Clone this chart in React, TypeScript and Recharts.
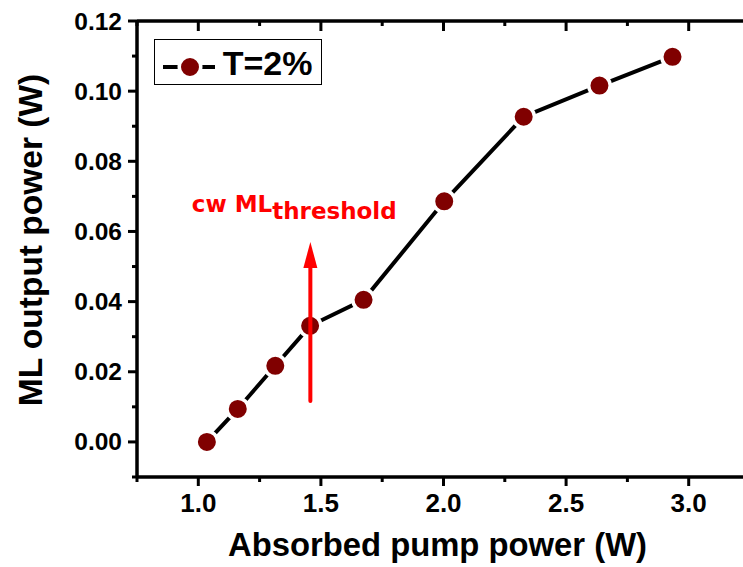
import { Legend, Line, LineChart, ReferenceLine, XAxis, YAxis } from 'recharts'

const pumpPower = [1.035, 1.161, 1.314, 1.456, 1.674, 2.003, 2.327, 2.636, 2.934]
const mlPower = [0.0, 0.0094, 0.0217, 0.0331, 0.0405, 0.0686, 0.0927, 0.1016, 0.1098]

const xTicks = [0.75, 1, 1.25, 1.5, 1.75, 2, 2.25, 2.5, 2.75, 3, 3.25]
const yTicks = [-0.01, 0, 0.01, 0.02, 0.03, 0.04, 0.05, 0.06, 0.07, 0.08, 0.09, 0.1, 0.11, 0.12]

const seriesName = 'T=2%'
const arrowX = 1.457
const arrowFrom = 0.0117
const arrowTo = 0.057

const data = pumpPower.map((x, i) => ({ x, y: mlPower[i] }))

const FONT = '"Liberation Sans", Arial, sans-serif'
const NOTE_FONT = '"DejaVu Sans", sans-serif'
const MARKER = '#800000'

const isMajorX = (v: number) => Math.abs(v * 2 - Math.round(v * 2)) < 1e-6
const isMajorY = (v: number) => Math.round(v * 100) % 2 === 0

function BottomTick({ x, y, payload }: any) {
  const major = isMajorX(payload.value)
  return (
    <g>
      <line x1={x} x2={x} y1={y} y2={y + (major ? 9 : 5)} stroke="#000" strokeWidth={3} />
      {major && (
        <text x={x} y={y + 34.5} textAnchor="middle" fontFamily={FONT} fontWeight="bold" fontSize={26} fill="#000">
          {payload.value.toFixed(1)}
        </text>
      )}
    </g>
  )
}

function TopTick({ x, y, payload }: any) {
  const major = isMajorX(payload.value)
  return <line x1={x} x2={x} y1={y} y2={y + (major ? 10 : 5)} stroke="#000" strokeWidth={3} />
}

function LeftTick({ x, y, payload }: any) {
  const major = isMajorY(payload.value)
  return (
    <g>
      <line x1={x} x2={x - (major ? 9 : 5)} y1={y} y2={y} stroke="#000" strokeWidth={3} />
      {major && payload.value >= 0 && (
        <text x={x - 15} y={y + 8.5} textAnchor="end" fontFamily={FONT} fontWeight="bold" fontSize={24.5} fill="#000">
          {payload.value.toFixed(2)}
        </text>
      )}
    </g>
  )
}

function RightTick({ x, y, payload }: any) {
  const major = isMajorY(payload.value)
  return <line x1={x} x2={x - (major ? 9 : 5)} y1={y} y2={y} stroke="#000" strokeWidth={3} />
}

function Dot({ cx, cy }: any) {
  return <circle cx={cx} cy={cy} r={10.75} fill={MARKER} stroke="#fff" strokeWidth={3.5} />
}

function Arrow({ x1, y1, y2 }: any) {
  // lower end to tip, label sits above and to the left of the tip
  const top = Math.min(y1, y2)
  const bottom = Math.max(y1, y2)
  return (
    <g>
      <line x1={x1} x2={x1} y1={bottom} y2={top + 22} stroke="#ff0000" strokeWidth={4} strokeLinecap="round" />
      <polygon points={`${x1},${top} ${x1 - 7},${top + 26} ${x1 + 7},${top + 26}`} fill="#ff0000" />
      <text x={x1 - 118.6} y={top - 30} fontFamily={NOTE_FONT} fontWeight="bold" fontSize={23} fill="#ff0000">
        cw ML
        <tspan dy={7}>threshold</tspan>
      </text>
    </g>
  )
}

function LegendBox() {
  return (
    <svg width={168} height={46} style={{ display: 'block' }}>
      <rect x={0.5} y={0.5} width={167} height={45} fill="#fff" stroke="#000" strokeWidth={1} />
      <line x1={9} x2={61} y1={28} y2={28} stroke="#000" strokeWidth={4} />
      <circle cx={36} cy={28} r={10.75} fill={MARKER} stroke="#fff" strokeWidth={3.5} />
      <text x={68.7} y={36} fontFamily={FONT} fontWeight="bold" fontSize={34} fill="#000">
        {seriesName}
      </text>
    </svg>
  )
}

export default function App() {
  return (
    <div style={{ position: 'absolute', left: 0, top: 0, width: 743, height: 567, overflow: 'hidden', background: '#fff' }}>
      <LineChart width={760} height={567} data={data} margin={{ top: 0, right: 10, bottom: 0, left: 0 }}>
        <XAxis
          dataKey="x"
          type="number"
          xAxisId="bottom"
          orientation="bottom"
          domain={[0.75, 3.25]}
          ticks={xTicks}
          interval={0}
          height={90}
          tickSize={0}
          tickMargin={0}
          tickLine={false}
          tick={<BottomTick />}
          axisLine={{ stroke: '#000', strokeWidth: 3.5 }}
          label={{
            content: () => (
              <text x={437.5} y={556} textAnchor="middle" fontFamily={FONT} fontWeight="bold" fontSize={32.8} fill="#000">
                Absorbed pump power (W)
              </text>
            ),
          }}
        />
        <XAxis
          dataKey="x"
          type="number"
          xAxisId="top"
          orientation="top"
          domain={[0.75, 3.25]}
          ticks={xTicks}
          interval={0}
          height={21}
          tickSize={0}
          tickMargin={0}
          tickLine={false}
          tick={<TopTick />}
          axisLine={{ stroke: '#000', strokeWidth: 3.5 }}
        />
        <YAxis
          yAxisId="left"
          type="number"
          domain={[-0.01, 0.12]}
          ticks={yTicks}
          interval={0}
          width={137}
          tickSize={0}
          tickMargin={0}
          tickLine={false}
          tick={<LeftTick />}
          axisLine={{ stroke: '#000', strokeWidth: 3.5 }}
          label={{
            content: () => (
              <text
                transform="translate(42,240) rotate(-90)"
                textAnchor="middle"
                fontFamily={FONT}
                fontWeight="bold"
                fontSize={33.5}
                fill="#000"
              >
                ML output power (W)
              </text>
            ),
          }}
        />
        <YAxis
          yAxisId="right"
          orientation="right"
          type="number"
          domain={[-0.01, 0.12]}
          ticks={yTicks}
          interval={0}
          width={0}
          tickSize={0}
          tickMargin={0}
          tickLine={false}
          tick={<RightTick />}
          axisLine={{ stroke: '#000', strokeWidth: 3.5 }}
        />
        <Legend
          layout="horizontal"
          verticalAlign="middle"
          align="center"
          content={() => <LegendBox />}
          wrapperStyle={{ left: 154, top: 39, width: 168, height: 46 }}
        />
        <Line
          xAxisId="bottom"
          yAxisId="left"
          dataKey="y"
          name={seriesName}
          stroke="#000"
          strokeWidth={4}
          dot={<Dot />}
          activeDot={false}
          isAnimationActive={false}
        />
        <ReferenceLine
          xAxisId="bottom"
          yAxisId="left"
          segment={[
            { x: arrowX, y: arrowFrom },
            { x: arrowX, y: arrowTo },
          ]}
          shape={(p: any) => <Arrow {...p} />}
          zIndex={700}
        />
      </LineChart>
    </div>
  )
}
